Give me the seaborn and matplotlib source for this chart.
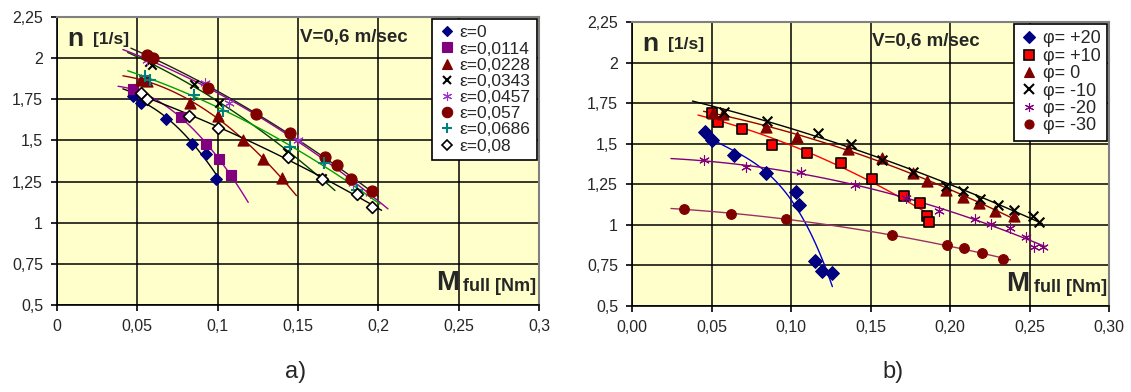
import numpy as np
import matplotlib
matplotlib.use("Agg")
import matplotlib.pyplot as plt
from matplotlib.lines import Line2D
import seaborn as sns

# ---- chart a): n vs M_full for several eps ----
eps_labels = ["ε=0", "ε=0,0114", "ε=0,0228", "ε=0,0343", "ε=0,0457",
              "ε=0,057", "ε=0,0686", "ε=0,08"]
eps_x = [
    [0.047, 0.052, 0.068, 0.084, 0.093, 0.099],
    [0.047, 0.077, 0.093, 0.101, 0.108],
    [0.052, 0.056, 0.083, 0.100, 0.116, 0.128, 0.140],
    [0.057, 0.059, 0.085, 0.101, 0.143, 0.165],
    [0.056, 0.092, 0.107, 0.150, 0.167, 0.184, 0.195],
    [0.056, 0.060, 0.094, 0.124, 0.145, 0.167, 0.174, 0.183, 0.196],
    [0.055, 0.058, 0.085, 0.103, 0.145, 0.166, 0.187],
    [0.052, 0.056, 0.082, 0.100, 0.144, 0.165, 0.187, 0.196],
]
eps_n = [
    [1.77, 1.73, 1.63, 1.48, 1.42, 1.265],
    [1.81, 1.64, 1.48, 1.385, 1.29],
    [1.87, 1.86, 1.73, 1.65, 1.50, 1.39, 1.27],
    [1.975, 1.96, 1.84, 1.73, 1.43, 1.27],
    [1.99, 1.85, 1.73, 1.50, 1.38, 1.24, 1.18],
    [2.02, 2.00, 1.82, 1.66, 1.545, 1.40, 1.35, 1.265, 1.19],
    [1.89, 1.87, 1.775, 1.68, 1.46, 1.365, 1.20],
    [1.79, 1.75, 1.65, 1.575, 1.40, 1.265, 1.175, 1.095],
]
eps_trend_range = [(0.045, 0.100), (0.038, 0.119), (0.041, 0.149), (0.044, 0.173),
                   (0.041, 0.206), (0.046, 0.200), (0.044, 0.201), (0.041, 0.202)]

# ---- chart b): n vs M_full for several phi ----
phi_labels = ["φ= +20", "φ= +10", "φ= 0", "φ= -10", "φ= -20", "φ= -30"]
phi_x = [
    [0.046, 0.050, 0.064, 0.084, 0.103, 0.105, 0.115, 0.1195, 0.126],
    [0.050, 0.054, 0.069, 0.088, 0.110, 0.1315, 0.151, 0.171, 0.181, 0.1855, 0.187],
    [0.051, 0.057, 0.084, 0.104, 0.136, 0.157, 0.177, 0.1855, 0.1975, 0.208, 0.218, 0.228, 0.240],
    [0.058, 0.085, 0.117, 0.138, 0.157, 0.177, 0.1975, 0.208, 0.219, 0.230, 0.240, 0.252, 0.256],
    [0.045, 0.072, 0.106, 0.140, 0.172, 0.193, 0.216, 0.226, 0.238, 0.248, 0.253, 0.2585],
    [0.033, 0.062, 0.097, 0.1635, 0.198, 0.209, 0.220, 0.233],
]
phi_n = [
    [1.57, 1.52, 1.43, 1.32, 1.20, 1.125, 0.775, 0.715, 0.705],
    [1.69, 1.635, 1.59, 1.49, 1.44, 1.38, 1.28, 1.18, 1.135, 1.055, 1.02],
    [1.69, 1.68, 1.60, 1.54, 1.47, 1.41, 1.32, 1.27, 1.215, 1.17, 1.135, 1.085, 1.055],
    [1.695, 1.64, 1.565, 1.50, 1.40, 1.325, 1.24, 1.21, 1.16, 1.12, 1.09, 1.055, 1.02],
    [1.40, 1.355, 1.325, 1.245, 1.165, 1.085, 1.035, 1.005, 0.98, 0.925, 0.865, 0.865],
    [1.10, 1.065, 1.035, 0.935, 0.875, 0.855, 0.825, 0.79],
]
phi_trend_range = [(0.046, 0.126), (0.0415, 0.187), (0.045, 0.240), (0.038, 0.258),
                   (0.0245, 0.260), (0.0245, 0.238)]
phi_trend_deg = [3, 2, 2, 2, 2, 2]

y_ticks = [0.5, 0.75, 1, 1.25, 1.5, 1.75, 2, 2.25]
y_ticklabels = ["0,5", "0,75", "1", "1,25", "1,5", "1,75", "2", "2,25"]
x_ticks = [0, 0.05, 0.1, 0.15, 0.2, 0.25, 0.3]
xa_ticklabels = ["0", "0,05", "0,1", "0,15", "0,2", "0,25", "0,3"]
xb_ticklabels = ["0,00", "0,05", "0,10", "0,15", "0,20", "0,25", "0,30"]

# marker styles: (marker, face, edge, size, line colour)
eps_style = [
    ("D", "#000080", "#000080", 6, "black"),
    ("s", "#800080", "#800080", 7, "#990099"),
    ("^", "#800000", "#800000", 8, "#990000"),
    ("x", "black", "black", 6, "#004000"),
    ((6, 2, 0), "#9933CC", "#9933CC", 7, "#990099"),
    ("o", "#800000", "#800000", 8, "#202020"),
    ("+", "#008080", "#008080", 8, "#00A000"),
    ("D", "white", "black", 6, "black"),
]
phi_style = [
    ("D", "#000080", "#000080", 7, "#0000CC"),
    ("s", "#FF0000", "black", 7, "#FF0000"),
    ("^", "#800000", "#800000", 8, "#990000"),
    ("x", "black", "black", 7, "black"),
    ((6, 2, 0), "#800080", "#800080", 7, "#800080"),
    ("o", "#800000", "#800000", 7, "#993366"),
]

sns.set_style("white")
plt.rcParams["font.family"] = ["Liberation Sans", "DejaVu Sans"]

fig = plt.figure(figsize=(11.31, 3.92), dpi=100)
ax_a = fig.add_axes([0.0504, 0.2219, 0.4262, 0.7347])
ax_b = fig.add_axes([0.5588, 0.2194, 0.4218, 0.7245])


def draw_panel(ax, xs, ns, labels, styles, ranges, degs, xticklabels,
               leg_size, leg_spacing):
    handles = []
    for i in range(len(xs)):
        mk, fc, ec, ms, lc = styles[i]
        x = np.array(xs[i])
        n = np.array(ns[i])
        coef = np.polyfit(x, n, degs[i])
        xf = np.linspace(ranges[i][0], ranges[i][1], 100)
        sns.lineplot(x=xf, y=np.polyval(coef, xf), ax=ax, color=lc, lw=1.0,
                     sort=False, zorder=3)
        lw = 1.5 if mk in ("x", "+") else 0.8
        if mk == "s" and ec == "black":
            lw = 1.2
        if mk == "D" and fc == "white":
            lw = 1.2
        sns.scatterplot(x=x, y=n, ax=ax, marker=mk, s=ms ** 2, color=fc,
                        edgecolor=ec, linewidth=lw, zorder=4)
        handles.append(Line2D([], [], ls="none", marker=mk, markersize=ms - 0.5,
                              markerfacecolor=fc, markeredgecolor=ec,
                              markeredgewidth=lw, color=fc, label=labels[i]))
    ax.set_facecolor("#FFFFCC")
    ax.set_xlim(0, 0.3)
    ax.set_ylim(0.5, 2.25)
    ax.set_xticks(x_ticks)
    ax.set_xticklabels(xticklabels)
    ax.set_yticks(y_ticks)
    ax.set_yticklabels(y_ticklabels)
    ax.grid(True, color="black", lw=1.1)
    ax.set_axisbelow(True)
    ax.tick_params(axis="both", labelsize=11.5, direction="out", length=4,
                   width=1.2, color="black", bottom=True, left=True, pad=6)
    for s in ("left", "bottom"):
        ax.spines[s].set_color("black")
        ax.spines[s].set_linewidth(1.2)
    for s in ("top", "right"):
        ax.spines[s].set_color("#808080")
        ax.spines[s].set_linewidth(1.5)
    ax.set_xlabel("")
    ax.set_ylabel("")
    leg = ax.legend(handles=handles, loc="upper right", fontsize=leg_size,
                    frameon=True, fancybox=False, edgecolor="black",
                    framealpha=1, handlelength=1.0, handletextpad=0.25,
                    labelspacing=leg_spacing, borderpad=0.35, borderaxespad=0.12)
    leg.get_frame().set_linewidth(1.2)
    leg.set_zorder(10)
    # axis captions inside the plot
    ax.text(0.022, 0.965, "n", transform=ax.transAxes, fontsize=19,
            fontweight="bold", va="top", ha="left")
    ax.text(0.075, 0.948, "[1/s]", transform=ax.transAxes, fontsize=12.5,
            fontweight="bold", va="top", ha="left")
    ax.text(0.615, 0.96, "V=0,6 m/sec", transform=ax.transAxes, fontsize=13.5,
            fontweight="bold", va="top", ha="center")
    full = ax.text(0.995, 0.035, "full [Nm]", transform=ax.transAxes,
                   fontsize=13, fontweight="bold", va="bottom", ha="right")
    return full


full_a = draw_panel(ax_a, eps_x, eps_n, eps_labels, eps_style, eps_trend_range,
                    [2] * len(eps_x), xa_ticklabels, 12.5, 0.06)
full_b = draw_panel(ax_b, phi_x, phi_n, phi_labels, phi_style, phi_trend_range,
                    phi_trend_deg, xb_ticklabels, 13, 0.02)

# put the big "M" just left of "full [Nm]"
fig.canvas.draw()
renderer = fig.canvas.get_renderer()
for ax, full in ((ax_a, full_a), (ax_b, full_b)):
    bb = full.get_window_extent(renderer)
    x0 = ax.transAxes.inverted().transform((bb.x0 - 4, bb.y0))[0]
    ax.text(x0, 0.03, "M", transform=ax.transAxes, fontsize=20,
            fontweight="bold", va="bottom", ha="right")

fig.text(296 / 1131, 1 - 372 / 392, "a)", fontsize=17, ha="center", va="center")
fig.text(893 / 1131, 1 - 372 / 392, "b)", fontsize=17, ha="center", va="center")

fig.savefig("out.png", dpi=100)
